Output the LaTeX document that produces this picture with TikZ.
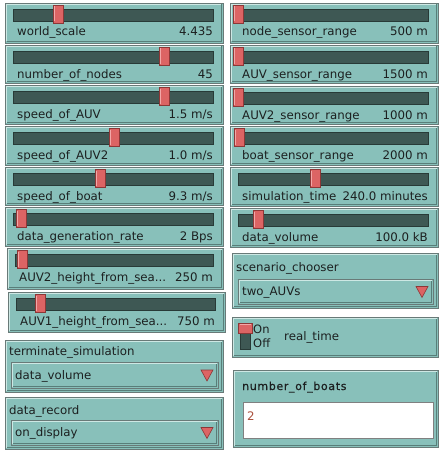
\documentclass[tikz,border=0pt]{standalone}
\usepackage{fontspec}
\setmainfont{DejaVu Sans}
\newfontfamily\boxlabelfont[LetterSpace=6,FakeBold=0.6]{DejaVu Sans}
\definecolor{wbg}{RGB}{136,192,186}
\definecolor{wedge}{RGB}{105,122,120}
\definecolor{wlight}{RGB}{205,232,228}
\definecolor{wdark}{RGB}{88,126,121}
\definecolor{wtrack}{RGB}{62,88,84}
\definecolor{wtrackedge}{RGB}{40,58,55}
\definecolor{whandle}{RGB}{220,100,100}
\definecolor{whandlehi}{RGB}{242,168,168}
\definecolor{whandleedge}{RGB}{140,55,55}
\definecolor{wtext}{RGB}{28,32,32}
\definecolor{wnum}{RGB}{170,80,60}
\tikzset{
  lbl/.style={font=\fontsize{11.8}{12}\selectfont, text=wtext, inner sep=0pt},
  trackbar/.style={fill=wtrack, draw=wtrackedge, line width=0.6pt},
  handlebar/.style={fill=whandle, draw=whandleedge, line width=0.6pt},
  dropbox/.style={fill=wbg, draw=wedge, line width=0.8pt},
  droptri/.style={fill=whandle, draw=whandleedge, line width=0.6pt}
}
\newcommand{\nlbox}[4]{%
  \fill[wbg] (#1,#2) rectangle (#3,#4);
  \draw[wlight, line width=1pt] (#1+1.5,#4-1.5) -- (#1+1.5,#2+1.5) -- (#3-1.5,#2+1.5);
  \draw[wdark, line width=1pt] (#1+1.5,#4-1.5) -- (#3-1.5,#4-1.5) -- (#3-1.5,#2+1.5);
  \draw[wedge, line width=0.8pt] (#1,#2) rectangle (#3,#4);
}
% x1 y1 x2 y2 handle-x label value name
\newcommand{\nlslider}[8]{%
  \nlbox{#1}{#2}{#3}{#4}
  \draw[trackbar] (#1+8,#2+6) rectangle (#3-10,#2+18);
  \draw[handlebar] (#5-5,#2+2) rectangle (#5+5,#2+20);
  \draw[whandlehi, line width=1.2pt] (#5-3.5,#2+3.5) -- (#5-3.5,#2+18.5);
  \node[lbl, anchor=base west] (#8-l) at (#1+12,#2+33) {#6};
  \node[lbl, anchor=base east] (#8-v) at (#3-10,#2+33) {#7};
}
% x1 y1 x2 y2 label-baseline inner-top label value
\newcommand{\nlchooser}[8]{%
  \nlbox{#1}{#2}{#3}{#4}
  \node[lbl, anchor=base west] at (#1+4,#5) {#7};
  \fill[wbg] (#1+6,#6) rectangle (#3-5,#4-4);
  \draw[wlight, line width=1pt] (#1+7.5,#4-5.5) -- (#1+7.5,#6+1.5) -- (#3-6.5,#6+1.5);
  \draw[wdark, line width=1pt] (#1+7.5,#4-5.5) -- (#3-6.5,#4-5.5) -- (#3-6.5,#6+1.5);
  \draw[wedge, line width=0.8pt] (#1+6,#6) rectangle (#3-5,#4-4);
  \node[lbl, anchor=base west] at (#1+10,{(#6+#4-4)/2+4}) {#8};
  \draw[droptri] (#3-22,{(#6+#4-4)/2-5}) -- (#3-10,{(#6+#4-4)/2-5}) -- (#3-16,{(#6+#4-4)/2+6}) -- cycle;
}
\begin{document}
\begin{tikzpicture}[x=1pt,y=-1pt]
\useasboundingbox (0,0) rectangle (443,452);
\fill[white] (0,0) rectangle (443,452);

% left column sliders
\nlslider{5}{3}{223}{43}{58}{world\_scale}{4.435}{ws}
\nlslider{5}{45}{223}{83}{164}{number\_of\_nodes}{45}{nn}
\nlslider{5}{85}{223}{124}{164}{speed\_of\_AUV}{1.5 m/s}{sa}
\nlslider{5}{126}{223}{165}{114}{speed\_of\_AUV2}{1.0 m/s}{sa2}
\nlslider{5}{167}{223}{205}{100}{speed\_of\_boat}{9.3 m/s}{sb}
\nlslider{5}{207}{223}{246}{21}{data\_generation\_rate}{2 Bps}{dg}
\nlslider{7}{248}{223}{289}{22}{AUV2\_height\_from\_sea...}{250 m}{h2}
\nlslider{8}{292}{225}{332}{40}{AUV1\_height\_from\_sea...}{750 m}{h1}

% right column sliders
\nlslider{230}{3}{438}{43}{238}{node\_sensor\_range}{500 m}{ns}
\nlslider{230}{45}{438}{83}{238}{AUV\_sensor\_range}{1500 m}{as}
\nlslider{230}{86}{438}{124}{238}{AUV2\_sensor\_range}{1000 m}{as2}
\nlslider{230}{126}{438}{165}{239}{boat\_sensor\_range}{2000 m}{bs}
\nlslider{230}{167}{438}{206}{315}{simulation\_time}{240.0 minutes}{st}
\nlslider{230}{208}{438}{247}{258}{data\_volume}{100.0 kB}{dv}

% choosers
\nlchooser{5}{340}{223}{392}{355}{362}{terminate\_simulation}{data\_volume}
\nlchooser{5}{397}{223}{449}{414}{420}{data\_record}{on\_display}
\nlchooser{232}{253}{438}{308}{271}{279}{scenario\_chooser}{two\_AUVs}

% switch
\nlbox{232}{317}{438}{357}
\fill[wtrack] (240,332) rectangle (250,349);
\draw[wtrackedge, line width=0.6pt] (240,332) rectangle (250,349);
\draw[handlebar] (238,323) rectangle (252,333);
\draw[whandlehi, line width=1.2pt] (239.5,324.5) -- (250.5,324.5);
\node[lbl, anchor=base west, font=\fontsize{11.5}{11}\selectfont] (on) at (253,333) {On};
\node[lbl, anchor=base west, font=\fontsize{11.5}{11}\selectfont] (off) at (253,347) {Off};
\node[lbl, anchor=base west] (rt) at (284,340) {real\_time};

% input box
\nlbox{233}{370}{438}{447}
\node[lbl, anchor=base west, font=\boxlabelfont\fontsize{11}{11}\selectfont] (nbl) at (242,390) {number\_of\_boats};
\fill[white] (243,402) rectangle (433,438);
\draw[gray, line width=0.8pt] (243,402) rectangle (433,438);
\node[lbl, anchor=base west, text=wnum] (nbv) at (247,420) {2};
\end{tikzpicture}
\end{document}
